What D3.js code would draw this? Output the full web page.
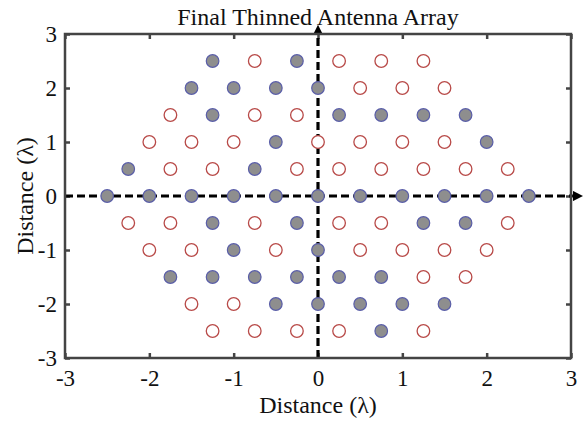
<!DOCTYPE html>
<html>
<head>
<meta charset="utf-8">
<script src="https://cdn.jsdelivr.net/npm/d3@7"></script>
<style>
  body { margin: 0; background: #fff; }
  svg { display: block; font-family: "Liberation Serif", "DejaVu Serif", serif; }
</style>
</head>
<body>
<div id="chart"></div>
<script>
// active (kept) elements, [x, y] in wavelengths
const activeElements = [
  [-1.25, 2.5], [-0.25, 2.5],
  [-1.5, 2], [-1, 2], [-0.5, 2], [0, 2],
  [-1.25, 1.5], [0.25, 1.5], [0.75, 1.5], [1.25, 1.5], [1.75, 1.5],
  [-0.5, 1], [2, 1],
  [-2.25, 0.5], [-0.75, 0.5],
  [-2.5, 0], [-2, 0], [-1.5, 0], [-1, 0], [-0.5, 0], [0, 0], [0.5, 0], [1, 0], [1.5, 0], [2, 0], [2.5, 0],
  [-1.25, -0.5], [-0.25, -0.5], [1.25, -0.5], [1.75, -0.5],
  [-1, -1], [0, -1],
  [-1.75, -1.5], [-1.25, -1.5], [-0.75, -1.5], [-0.25, -1.5], [0.25, -1.5], [0.75, -1.5],
  [-0.5, -2], [0, -2], [0.5, -2], [1, -2], [1.5, -2],
  [0.75, -2.5]
];

// thinned (switched off) elements
const thinnedElements = [
  [-0.75, 2.5], [0.25, 2.5], [0.75, 2.5], [1.25, 2.5],
  [0.5, 2], [1, 2], [1.5, 2],
  [-1.75, 1.5], [-0.75, 1.5], [-0.25, 1.5],
  [-2, 1], [-1.5, 1], [-1, 1], [0, 1], [0.5, 1], [1, 1], [1.5, 1],
  [-1.75, 0.5], [-1.25, 0.5], [-0.25, 0.5], [0.25, 0.5], [0.75, 0.5], [1.25, 0.5], [1.75, 0.5], [2.25, 0.5],
  [-2.25, -0.5], [-1.75, -0.5], [-0.75, -0.5], [0.25, -0.5], [0.75, -0.5], [2.25, -0.5],
  [-2, -1], [-1.5, -1], [-0.5, -1], [0.5, -1], [1, -1], [1.5, -1], [2, -1],
  [1.25, -1.5], [1.75, -1.5],
  [-1.5, -2], [-1, -2],
  [-1.25, -2.5], [-0.75, -2.5], [-0.25, -2.5], [0.25, -2.5], [1.25, -2.5]
];

const xTicks = [-3, -2, -1, 0, 1, 2, 3];
const yTicks = [-3, -2, -1, 0, 1, 2, 3];

const width = 586;
const height = 421;
const margin = { top: 34, right: 15, bottom: 63, left: 65 };
const plotW = width - margin.left - margin.right;
const plotH = height - margin.top - margin.bottom;

const x = d3.scaleLinear().domain([-3, 3]).range([0, plotW]);
const y = d3.scaleLinear().domain([-3, 3]).range([plotH, 0]);

// plain hyphen for negatives, as in the original figure
const fmt = function (d) { return String(d); };

const svg = d3.select('#chart')
  .append('svg')
  .attr('width', width)
  .attr('height', height);

const defs = svg.append('defs');
defs.append('marker')
  .attr('id', 'arrow')
  .attr('viewBox', '0 0 10 10')
  .attr('refX', 2)
  .attr('refY', 5)
  .attr('markerWidth', 3.2)
  .attr('markerHeight', 3.2)
  .attr('markerUnits', 'strokeWidth')
  .attr('orient', 'auto')
  .append('path')
  .attr('d', 'M0,0 L10,5 L0,10 Z')
  .attr('fill', '#000');

const g = svg.append('g')
  .attr('transform', 'translate(' + margin.left + ',' + margin.top + ')');

// ticks on all four sides, pointing inward
const tickLen = 5;
const axisColor = '#444';

const xAxisB = g.append('g')
  .attr('transform', 'translate(0,' + plotH + ')')
  .call(d3.axisBottom(x).tickValues(xTicks).tickSizeInner(-tickLen).tickSizeOuter(0).tickPadding(12)
    .tickFormat(fmt));
const xAxisT = g.append('g')
  .call(d3.axisTop(x).tickValues(xTicks).tickSizeInner(-tickLen).tickSizeOuter(0).tickFormat(''));
const yAxisL = g.append('g')
  .call(d3.axisLeft(y).tickValues(yTicks).tickSizeInner(-tickLen).tickSizeOuter(0).tickPadding(8)
    .tickFormat(fmt));
const yAxisR = g.append('g')
  .attr('transform', 'translate(' + plotW + ',0)')
  .call(d3.axisRight(y).tickValues(yTicks).tickSizeInner(-tickLen).tickSizeOuter(0).tickFormat(''));

[xAxisB, xAxisT, yAxisL, yAxisR].forEach(function (a) {
  a.select('.domain').remove();
  a.selectAll('line').attr('stroke', axisColor).attr('stroke-width', 2.5);
  a.selectAll('text')
    .attr('fill', '#111')
    .style('font-size', '23px')
    .style('font-family', '"Liberation Serif", serif');
});

// dashed axes through origin with arrowheads
g.append('line')
  .attr('x1', x(-3)).attr('x2', x(3) + 4)
  .attr('y1', y(0)).attr('y2', y(0))
  .attr('stroke', '#000')
  .attr('stroke-width', 3.2)
  .attr('stroke-dasharray', '8,4')
  .attr('marker-end', 'url(#arrow)');

g.append('line')
  .attr('x1', x(0)).attr('x2', x(0))
  .attr('y1', y(-3)).attr('y2', y(3) - 1)
  .attr('stroke', '#000')
  .attr('stroke-width', 3.2)
  .attr('stroke-dasharray', '8,4')
  .attr('marker-end', 'url(#arrow)');

// elements
const r = 6.3;

g.selectAll('.off')
  .data(thinnedElements)
  .enter()
  .append('circle')
  .attr('class', 'off')
  .attr('cx', function (d) { return x(d[0]); })
  .attr('cy', function (d) { return y(d[1]); })
  .attr('r', r)
  .attr('fill', '#fff')
  .attr('stroke', '#b84a48')
  .attr('stroke-width', 1.3);

g.selectAll('.on')
  .data(activeElements)
  .enter()
  .append('circle')
  .attr('class', 'on')
  .attr('cx', function (d) { return x(d[0]); })
  .attr('cy', function (d) { return y(d[1]); })
  .attr('r', r)
  .attr('fill', '#8e8e8e')
  .attr('stroke', '#5a5ea8')
  .attr('stroke-width', 1.2);

// frame
g.append('rect')
  .attr('x', 0).attr('y', 0)
  .attr('width', plotW).attr('height', plotH)
  .attr('fill', 'none')
  .attr('stroke', axisColor)
  .attr('stroke-width', 2.5);

// title and labels
svg.append('text')
  .attr('x', margin.left + x(0))
  .attr('y', 25)
  .attr('text-anchor', 'middle')
  .style('font-size', '24px')
  .attr('fill', '#111')
  .text('Final Thinned Antenna Array');

svg.append('text')
  .attr('x', margin.left + x(0))
  .attr('y', 413)
  .attr('text-anchor', 'middle')
  .style('font-size', '24px')
  .attr('fill', '#111')
  .text('Distance (λ)');

svg.append('text')
  .attr('transform', 'translate(33,' + (margin.top + y(0)) + ') rotate(-90)')
  .attr('text-anchor', 'middle')
  .style('font-size', '24px')
  .attr('fill', '#111')
  .text('Distance (λ)');
</script>
</body>
</html>
